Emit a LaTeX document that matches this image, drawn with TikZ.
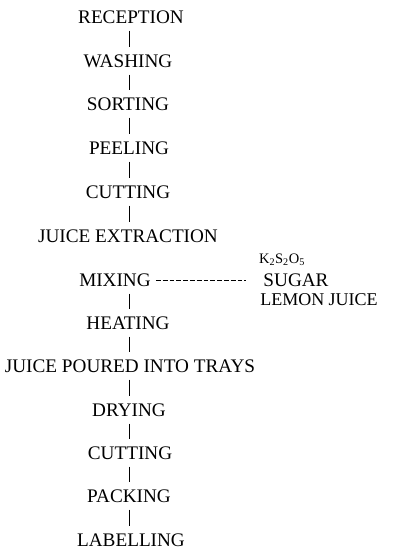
\documentclass[tikz,border=0pt]{standalone}
\usepackage{fontspec}
\setmainfont{Liberation Serif}
\usepackage{tikz}

\begin{document}
\begin{tikzpicture}[x=1pt,y=-1pt,
    stage/.style={inner sep=0pt,font=\fontsize{19.2}{22}\selectfont},
    link/.style={line width=0.9pt,shorten >=7pt,shorten <=7pt}]
    \useasboundingbox (0,0) rectangle (401,554);
    \coordinate (spine) at (129,0);

    % main line of stages
    \node[stage] (rec)   at (131,17)  {RECEPTION};
    \node[stage] (wash)  at (128,61)  {WASHING};
    \node[stage] (sort)  at (128,104) {SORTING};
    \node[stage] (peel)  at (129,148) {PEELING};
    \node[stage] (cut)   at (128,192) {CUTTING};
    \node[stage] (juice) at (128,236) {JUICE EXTRACTION};
    \node[stage] (mix)   at (115,280) {MIXING};
    \node[stage] (heat)  at (128,323) {HEATING};
    \node[stage] (trays) at (130,366) {JUICE POURED INTO TRAYS};
    \node[stage] (dry)   at (129,410) {DRYING};
    \node[stage] (recut) at (130,453) {CUTTING};
    \node[stage] (pack)  at (129,496) {PACKING};
    \node[stage] (label) at (131,540) {LABELLING};

    % additions
    \node[stage,font=\fontsize{14.5}{16}\selectfont] (salt) at (282,260) {K\textsubscript{2}S\textsubscript{2}O\textsubscript{5}};
    \node[stage] (sugar) at (296,280) {SUGAR};
    \node[stage,font=\fontsize{18}{22}\selectfont] (lemon) at (319,300) {LEMON JUICE};

    \draw[link] (rec.south -| spine) -- (wash.north -| spine);
    \draw[link] (wash.south -| spine) -- (sort.north -| spine);
    \draw[link] (sort.south -| spine) -- (peel.north -| spine);
    \draw[link] (peel.south -| spine) -- (cut.north -| spine);
    \draw[link] (cut.south -| spine) -- (juice.north -| spine);
    \draw[link] (mix.south -| spine) -- (heat.north -| spine);
    \draw[link] (heat.south -| spine) -- (trays.north -| spine);
    \draw[link] (trays.south -| spine) -- (dry.north -| spine);
    \draw[link] (dry.south -| spine) -- (recut.north -| spine);
    \draw[link] (recut.south -| spine) -- (pack.north -| spine);
    \draw[link] (pack.south -| spine) -- (label.north -| spine);
    \draw[line width=1pt,dash pattern=on 4.8pt off 2pt,shorten <=5pt,shorten >=17pt] (mix.east) -- (sugar.west);
\end{tikzpicture}
\end{document}
